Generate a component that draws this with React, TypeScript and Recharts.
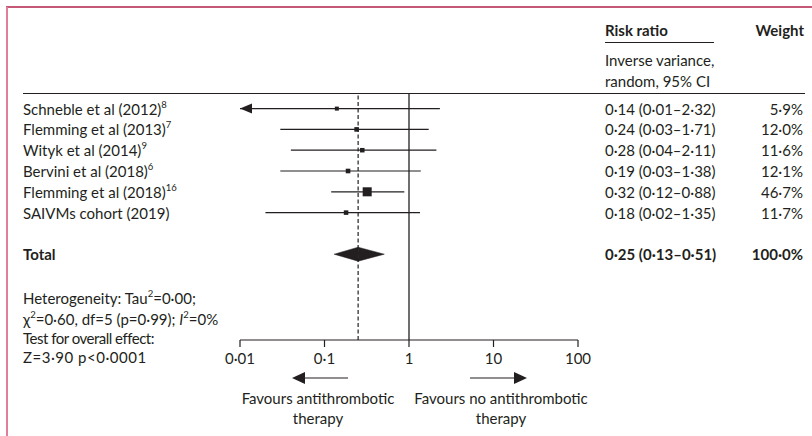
import { ScatterChart, Scatter, XAxis, YAxis, ReferenceLine } from 'recharts'

// study rows (top to bottom)
const studies = [
  'Schneble  et al (2012)',
  'Flemming et al (2013)',
  'Wityk et al (2014)',
  'Bervini et al (2018)',
  'Flemming et al (2018)',
  'SAIVMs cohort (2019)',
]
const refs = ['8', '7', '9', '6', '16', '']
const riskRatio = [0.14, 0.24, 0.28, 0.19, 0.32, 0.18]
const lowerCI = [0.01, 0.03, 0.04, 0.03, 0.12, 0.02]
const upperCI = [2.32, 1.71, 2.11, 1.38, 0.88, 1.35]
const weights = [5.9, 12.0, 11.6, 12.1, 46.7, 11.7]

// pooled estimate
const totalRR = 0.25
const totalLower = 0.13
const totalUpper = 0.51
const totalWeight = 100.0

const xTicks = [0.01, 0.1, 1, 10, 100]
const xDomain: [number, number] = [0.01, 100]
const TOTAL_ROW = 7

const INK = '#231f20'
const FONT = 'Lato, "Noto Sans", sans-serif'
const FS = 15
const SUP = 9.5

const dot = (s: string) => s.replace(/\./g, '·')
const fmtRR = (v: number, lo: number, hi: number) =>
  dot(`${v.toFixed(2)} (${lo.toFixed(2)}–${hi.toFixed(2)})`)
const fmtW = (w: number) => dot(`${w.toFixed(1)}%`)

const rows = studies.map((name, i) => ({ row: i, rr: riskRatio[i], w: weights[i], name }))

const Square = (p: any) => {
  const s = Math.max(4, 1.32 * Math.sqrt(p.payload.w))
  return <rect x={p.cx - s / 2} y={p.cy - s / 2} width={s} height={s} fill={INK} />
}

const ciShape = (clipped: boolean) => (p: any) => (
  <g>
    <line x1={p.x1} y1={p.y1} x2={p.x2} y2={p.y2} stroke={INK} strokeWidth={1.2} />
    {clipped && (
      <polygon
        points={`${p.x1},${p.y1} ${p.x1 + 12},${p.y1 - 5} ${p.x1 + 12},${p.y1 + 5}`}
        fill={INK}
      />
    )}
  </g>
)

// diamond halves: left half points to x1, right half points to x2
const halfDiamond = (side: 'left' | 'right') => (p: any) => {
  const h = 7
  const pts =
    side === 'left'
      ? `${p.x1},${p.y1} ${p.x2},${p.y2 - h} ${p.x2},${p.y2 + h}`
      : `${p.x1},${p.y1 - h} ${p.x2},${p.y2} ${p.x1},${p.y1 + h}`
  return <polygon points={pts} fill={INK} stroke={INK} strokeWidth={0.5} />
}

const StudyTick = (p: any) => {
  const i = p.payload.value
  if (i === TOTAL_ROW) {
    return (
      <text x={23} y={p.y} dominantBaseline="central" fontWeight={700} fontSize={FS} fontFamily={FONT} fill={INK}>
        Total
      </text>
    )
  }
  return (
    <text x={23} y={p.y} dominantBaseline="central" fontSize={FS} fontFamily={FONT} fill={INK}>
      {studies[i]}
      {refs[i] && (
        <tspan fontSize={SUP} dy={-5}>
          {refs[i]}
        </tspan>
      )}
    </text>
  )
}

const ValueTick = (p: any) => {
  const i = p.payload.value
  const isTotal = i === TOTAL_ROW
  const rr = isTotal ? fmtRR(totalRR, totalLower, totalUpper) : fmtRR(riskRatio[i], lowerCI[i], upperCI[i])
  const w = isTotal ? fmtW(totalWeight) : fmtW(weights[i])
  return (
    <g fill={INK} fontSize={FS} fontFamily={FONT} fontWeight={isTotal ? 700 : 400}>
      <text x={605} y={p.y} dominantBaseline="central">
        {rr}
      </text>
      <text x={803} y={p.y} dominantBaseline="central" textAnchor="end">
        {w}
      </text>
    </g>
  )
}

function Overlay() {
  const t = { fontSize: FS, fontFamily: FONT, fill: INK }
  return (
    <svg width={812} height={436} style={{ position: 'absolute', left: 0, top: 0, pointerEvents: 'none' }}>
      <line x1={6} y1={7} x2={812} y2={7} stroke="#b3214a" strokeWidth={1.5} />
      <line x1={7} y1={7} x2={7} y2={436} stroke="#e07f9b" strokeWidth={2} />
      <line x1={23} y1={93.5} x2={805} y2={93.5} stroke={INK} strokeWidth={1.2} />

      <text x={605} y={30} dominantBaseline="central" fontWeight={700} {...t}>Risk ratio</text>
      <line x1={605} y1={42.5} x2={714} y2={42.5} stroke={INK} strokeWidth={1} />
      <text x={804} y={30} dominantBaseline="central" textAnchor="end" fontWeight={700} {...t}>Weight</text>
      <text x={605} y={60} dominantBaseline="central" {...t}>Inverse variance,</text>
      <text x={605} y={81} dominantBaseline="central" {...t}>random, 95% CI</text>

      <text x={23} y={298} dominantBaseline="central" {...t}>
        Heterogeneity: Tau<tspan fontSize={SUP} dy={-5}>2</tspan><tspan dy={5}>=0·00;</tspan>
      </text>
      <text x={23} y={318.5} dominantBaseline="central" {...t}>
        χ<tspan fontSize={SUP} dy={-5}>2</tspan><tspan dy={5}>=0·60, df=5 (p=0·99); </tspan>
        <tspan fontStyle="italic">I</tspan><tspan fontSize={SUP} dy={-5}>2</tspan><tspan dy={5}>=0%</tspan>
      </text>
      <text x={23} y={338} dominantBaseline="central" {...t} letterSpacing={-0.5}>Test for overall effect:</text>
      <text x={23} y={357} dominantBaseline="central" {...t} letterSpacing={0.5}>Z=3·90 p&lt;0·0001</text>

      <line x1={300} y1={378} x2={348} y2={378} stroke={INK} strokeWidth={1.2} />
      <polygon points="292,378 305,372 305,384" fill={INK} />
      <line x1={470} y1={378} x2={516} y2={378} stroke={INK} strokeWidth={1.2} />
      <polygon points="527,378 514,372 514,384" fill={INK} />

      <text x={318} y={398} dominantBaseline="central" textAnchor="middle" {...t}>Favours antithrombotic</text>
      <text x={318} y={418} dominantBaseline="central" textAnchor="middle" {...t}>therapy</text>
      <text x={501} y={398} dominantBaseline="central" textAnchor="middle" {...t}>Favours no antithrombotic</text>
      <text x={501} y={418} dominantBaseline="central" textAnchor="middle" {...t}>therapy</text>
    </svg>
  )
}

export default function App() {
  const yDomain: [number, number] = [-0.75, 11.125]
  const rowTicks = [0, 1, 2, 3, 4, 5, TOTAL_ROW]
  return (
    <div style={{ position: 'absolute', left: 0, top: 0, width: 812, height: 436, background: '#fff' }}>
      <ScatterChart width={812} height={436} margin={{ top: 93, right: 0, bottom: 66, left: 0 }}>
        <XAxis
          type="number"
          dataKey="rr"
          scale="log"
          domain={xDomain}
          ticks={xTicks}
          allowDataOverflow
          height={30}
          tickSize={7}
          tickMargin={6}
          stroke={INK}
          strokeWidth={1.2}
          tick={{ fill: INK, fontSize: FS, fontFamily: FONT }}
          tickFormatter={(v: number) => dot(String(v))}
        />
        <YAxis
          yAxisId="left"
          type="number"
          dataKey="row"
          domain={yDomain}
          reversed
          allowDataOverflow
          ticks={rowTicks}
          interval={0}
          width={240}
          axisLine={false}
          tickLine={false}
          tick={StudyTick}
        />
        <YAxis
          yAxisId="right"
          orientation="right"
          type="number"
          domain={yDomain}
          reversed
          allowDataOverflow
          ticks={rowTicks}
          interval={0}
          width={234}
          axisLine={false}
          tickLine={false}
          tick={ValueTick}
        />
        <ReferenceLine yAxisId="left" x={1} stroke={INK} strokeWidth={1.3} />
        <ReferenceLine yAxisId="left" x={totalRR} stroke={INK} strokeWidth={1.2} strokeDasharray="4 2.5" />
        {studies.map((_, i) => (
          <ReferenceLine
            key={i}
            yAxisId="left"
            segment={[
              { x: lowerCI[i], y: i },
              { x: upperCI[i], y: i },
            ]}
            shape={ciShape(lowerCI[i] <= xDomain[0])}
          />
        ))}
        <ReferenceLine
          yAxisId="left"
          segment={[
            { x: totalLower, y: TOTAL_ROW },
            { x: totalRR, y: TOTAL_ROW },
          ]}
          shape={halfDiamond('left')}
        />
        <ReferenceLine
          yAxisId="left"
          segment={[
            { x: totalRR, y: TOTAL_ROW },
            { x: totalUpper, y: TOTAL_ROW },
          ]}
          shape={halfDiamond('right')}
        />
        <Scatter yAxisId="left" data={rows} shape={Square} isAnimationActive={false} />
      </ScatterChart>
      <Overlay />
    </div>
  )
}
